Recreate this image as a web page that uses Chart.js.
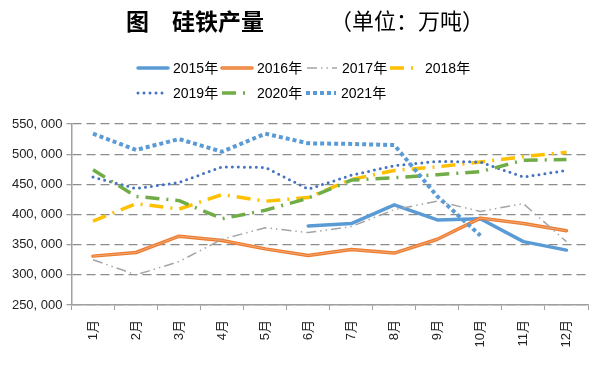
<!DOCTYPE html>
<html>
<head>
<meta charset="utf-8">
<script src="https://cdn.jsdelivr.net/npm/chart.js@4/dist/chart.umd.min.js"></script>
<style>
  html, body { margin: 0; padding: 0; background: #fff; }
  #wrap { position: relative; width: 600px; height: 372px; }
</style>
</head>
<body>
<div id="wrap"><canvas id="chart" width="600" height="372"></canvas></div>
<script>
// category and series data (万吨)
const months = ['1月', '2月', '3月', '4月', '5月', '6月', '7月', '8月', '9月', '10月', '11月', '12月'];
const years = ['2015年', '2016年', '2017年', '2018年', '2019年', '2020年', '2021年'];

const y2015 = [null, null, null, null, null, 381000, 385000, 416000, 391000, 393000, 355000, 341000];
const y2016 = [331000, 337000, 364000, 357000, 343000, 332000, 342000, 336000, 359000, 394000, 385000, 373000];
const y2017 = [325000, 300000, 322000, 359000, 378000, 370000, 380000, 408000, 422000, 405000, 418000, 355000];
const y2018 = [389000, 418000, 409000, 433000, 422000, 428000, 458000, 473000, 479000, 487000, 496000, 503000];
const y2019 = [462000, 443000, 453000, 479000, 478000, 442000, 465000, 481000, 488000, 487000, 462000, 473000];
const y2020 = [474000, 430000, 423000, 393000, 407000, 427000, 457000, 461000, 466000, 471000, 490000, 491000];
const y2021 = [534000, 507000, 525000, 504000, 534000, 518000, 517000, 515000, 430000, 365000, null, null];

const styles = [
    { color: '#5B9BD5', width: 3.5, dash: [], cap: 'round' },
    { color: '#ED7D31', width: 3.5, dash: [], cap: 'round' },
    { color: '#A5A5A5', width: 1.5, dash: [10, 4, 1.5, 4, 1.5, 4], cap: 'butt' },
    { color: '#FFC000', width: 3.5, dash: [14, 7, 2, 7], cap: 'butt' },
    { color: '#4472C4', width: 3, dash: [0, 6], cap: 'round' },
    { color: '#70AD47', width: 3.5, dash: [14, 7, 2, 7], cap: 'butt' },
    { color: '#5B9BD5', width: 4, dash: [4, 3], cap: 'butt' }
];
const seriesValues = [y2015, y2016, y2017, y2018, y2019, y2020, y2021];

const datasets = seriesValues.map((vals, i) => ({
    label: years[i],
    data: vals,
    borderColor: styles[i].color,
    borderWidth: styles[i].width,
    borderDash: styles[i].dash,
    borderCapStyle: styles[i].cap,
    borderJoinStyle: 'round',
    pointRadius: 0,
    tension: 0,
    fill: false,
    order: 8 - i
}));
// thin light core for the double orange line
datasets.push({
    label: 'core',
    data: y2016,
    borderColor: '#F4B183',
    borderWidth: 0.8,
    pointRadius: 0,
    tension: 0,
    fill: false,
    order: 6
});

// title + legend drawn on the canvas
const headerPlugin = {
    id: 'header',
    afterDraw(chart) {
        const ctx = chart.ctx;
        ctx.save();
        ctx.textBaseline = 'middle';
        ctx.fillStyle = '#000';
        ctx.font = 'bold 23px "Noto Sans CJK SC"';
        ctx.textAlign = 'left';
        ctx.fillText('图', 126, 21);
        ctx.fillText('硅铁产量', 172, 21);
        ctx.font = '22px "Noto Sans CJK SC"';
        ctx.fillText('（单位：万吨）', 330, 21);

        const rows = [
            [[138, 0], [222, 1], [307, 2], [390, 3]],
            [[138, 4], [222, 5], [306, 6]]
        ];
        const rowY = [68, 93];
        rows.forEach((row, r) => {
            row.forEach(([x, i]) => {
                const s = styles[i];
                const y = rowY[r];
                ctx.beginPath();
                ctx.strokeStyle = s.color;
                ctx.lineWidth = s.width;
                ctx.setLineDash(s.dash);
                ctx.lineCap = s.cap;
                ctx.moveTo(x, y);
                ctx.lineTo(x + 30, y);
                ctx.stroke();
                if (i === 1) {
                    ctx.beginPath();
                    ctx.strokeStyle = '#F4B183';
                    ctx.lineWidth = 0.8;
                    ctx.moveTo(x, y);
                    ctx.lineTo(x + 30, y);
                    ctx.stroke();
                }
                ctx.setLineDash([]);
                ctx.fillStyle = '#000';
                ctx.font = '14px "Liberation Sans", "Noto Sans CJK SC"';
                ctx.fillText(years[i], x + 35, y + 1);
            });
        });
        ctx.restore();
    }
};

new Chart(document.getElementById('chart'), {
    type: 'line',
    data: { labels: months, datasets: datasets },
    plugins: [headerPlugin],
    options: {
        responsive: false,
        animation: false,
        layout: { padding: { top: 124, right: 12, left: 0, bottom: 0 } },
        plugins: {
            legend: { display: false },
            title: { display: false },
            tooltip: { enabled: false }
        },
        scales: {
            x: {
                offset: true,
                grid: {
                    offset: true,
                    drawOnChartArea: false,
                    drawTicks: true,
                    tickLength: 5,
                    color: '#A0A0A0'
                },
                border: { display: true, color: '#A0A0A0', width: 1.5 },
                ticks: {
                    color: '#222',
                    font: { family: '"Liberation Sans", "Noto Sans CJK SC"', size: 13 },
                    minRotation: 90,
                    maxRotation: 90,
                    padding: 10
                },
                afterFit(scale) { scale.height = 67; }
            },
            y: {
                min: 250000,
                max: 550000,
                grid: {
                    color: '#8C8C8C',
                    lineWidth: 1.3,
                    drawTicks: true,
                    tickLength: 5,
                    tickColor: '#A0A0A0',
                    tickBorderDash: []
                },
                border: { display: true, color: '#A0A0A0', width: 1.5, dash: [9, 5] },
                ticks: {
                    stepSize: 50000,
                    color: '#222',
                    font: { family: '"Liberation Sans"', size: 13 },
                    padding: 4,
                    callback: v => v.toLocaleString('en-US').replace(',', ', ')
                },
                afterFit(scale) { scale.width = 71.5; }
            }
        }
    }
});
</script>
</body>
</html>
